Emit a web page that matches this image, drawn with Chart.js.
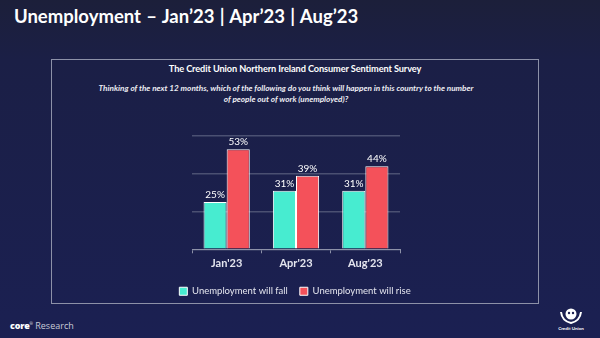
<!DOCTYPE html>
<html>
<head>
<meta charset="utf-8">
<script src="https://cdn.jsdelivr.net/npm/chart.js@4/dist/chart.umd.min.js"></script>
<style>
  html, body { margin: 0; padding: 0; }
  body {
    width: 600px; height: 338px; overflow: hidden; position: relative;
    background: linear-gradient(180deg, #1c1f3a 0px, #1b1f46 60px, #1b2052 338px);
    font-family: Lato, "Open Sans", sans-serif;
  }
  #title {
    position: absolute; left: 14px; top: 5px;
    color: #ffffff; font: bold 18.5px Lato, sans-serif; word-spacing: 0.8px;
  }
  #panel {
    position: absolute; left: 51px; top: 59px; width: 488px; height: 245px;
    border: 1.5px solid #8d91a8; box-sizing: border-box;
  }
  #panelTitle {
    position: absolute; left: 0; right: 0; top: 3px; text-align: center;
    color: #ffffff; font: bold 9.2px Lato, sans-serif; letter-spacing: -0.1px;
  }
  #question {
    position: absolute; left: 20px; width: 428px; top: 23px; text-align: center;
    color: #ececf2; font: italic bold 8.2px/11px Lato, sans-serif;
  }
  #chartBox {
    position: absolute; left: 52px; top: 104px; width: 486px; height: 209px;
  }
  #footer {
    position: absolute; left: 10px; top: 319px; color: #ffffff;
    font: 9px "Open Sans", sans-serif;
  }
  #footer b { font-weight: 800; letter-spacing: -0.2px; }
  #footer span { color: #c9cbd8; }
  #logo {
    position: absolute; left: 556px; top: 306px; width: 30px; height: 28px;
  }
  #logoText {
    position: absolute; left: 0; right: 0; top: 20px; text-align: center;
    color: #ffffff; font: bold 4.5px Lato, sans-serif;
  }
</style>
</head>
<body>
<div id="title">Unemployment – Jan’23 | Apr’23 | Aug’23</div>
<div id="panel">
  <div id="panelTitle">The Credit Union Northern Ireland Consumer Sentiment Survey</div>
  <div id="question">Thinking of the next 12 months, which of the following do you think will happen in this country to the number<br>of people out of work (unemployed)?</div>
</div>
<div id="chartBox"><canvas id="chart"></canvas></div>
<div id="footer"><b>core</b><sup style="font-size:4px">®</sup> <span>Research</span></div>
<div id="logo">
  <svg width="30" height="20" viewBox="0 0 30 20">
    <circle cx="15" cy="8" r="5.5" fill="#ffffff"/>
    <path d="M5 6 Q6 15 15 17 Q24 15 25 6" stroke="#ffffff" stroke-width="2" fill="none"/>
    <circle cx="13" cy="7" r="1.2" fill="#1b2052"/>
    <circle cx="17" cy="7" r="1.2" fill="#1b2052"/>
  </svg>
  <div id="logoText">Credit Union</div>
</div>

<script>
// Survey waves and shares of respondents (%)
const categories = ["Jan'23", "Apr'23", "Aug'23"];
const willFall = [25, 31, 31];
const willRise = [53, 39, 44];
const seriesNames = ["Unemployment will fall", "Unemployment will rise"];
const yTicks = [0, 20, 40, 60];

const teal = '#47ecd0';
const red = '#f4515a';

// Draws the percentage above each bar
const valueLabels = {
  id: 'valueLabels',
  afterDatasetsDraw(chart) {
    const ctx = chart.ctx;
    ctx.save();
    ctx.fillStyle = '#ffffff';
    ctx.font = '10px Lato, sans-serif';
    ctx.textAlign = 'center';
    ctx.textBaseline = 'bottom';
    chart.data.datasets.forEach((ds, i) => {
      chart.getDatasetMeta(i).data.forEach((bar, j) => {
        ctx.fillText(ds.data[j] + '%', bar.x, bar.y - 2);
      });
    });
    ctx.restore();
  }
};

new Chart(document.getElementById('chart'), {
  type: 'bar',
  data: {
    labels: categories,
    datasets: [
      { label: seriesNames[0], data: willFall, backgroundColor: teal,
        borderColor: '#ffffff', borderWidth: 1 },
      { label: seriesNames[1], data: willRise, backgroundColor: red,
        borderColor: '#ffffff', borderWidth: 1 }
    ]
  },
  options: {
    responsive: true,
    maintainAspectRatio: false,
    animation: false,
    datasets: { bar: { categoryPercentage: 0.667, barPercentage: 1 } },
    layout: { padding: { left: 0, right: 0, top: 32, bottom: 7 } },
    scales: {
      x: {
        grid: { display: true, drawOnChartArea: false, color: '#8d91a8',
                tickLength: 4, offset: true },
        border: { display: true, color: '#8d91a8', width: 1 },
        ticks: { color: '#e4e5ee', font: { family: 'Lato, sans-serif', size: 11, weight: 'bold' },
                 padding: 4 }
      },
      y: {
        min: yTicks[0], max: yTicks[yTicks.length - 1],
        afterBuildTicks(axis) { axis.ticks = yTicks.map(v => ({ value: v })); },
        afterFit(axis) { axis.width = 140; },
        grid: { color: '#4b5072', lineWidth: 1.5, drawTicks: false },
        border: { display: false },
        ticks: { display: false }
      },
      // empty right-hand axis that only reserves space beside the plot
      yRight: {
        position: 'right',
        min: yTicks[0], max: yTicks[yTicks.length - 1],
        afterFit(axis) { axis.width = 138; },
        grid: { display: false },
        border: { display: false },
        ticks: { display: false }
      }
    },
    plugins: {
      legend: {
        position: 'bottom',
        labels: {
          color: '#e4e5ee',
          font: { family: 'Lato, sans-serif', size: 9.5 },
          boxWidth: 8, boxHeight: 8, padding: 12,
          generateLabels(chart) {
            return chart.data.datasets.map((ds, i) => ({
              text: ds.label, fillStyle: ds.backgroundColor, strokeStyle: '#ffffff',
              lineWidth: 1, fontColor: '#e4e5ee', datasetIndex: i, hidden: false
            }));
          }
        }
      },
      tooltip: { enabled: false }
    }
  },
  plugins: [valueLabels]
});
</script>
</body>
</html>
